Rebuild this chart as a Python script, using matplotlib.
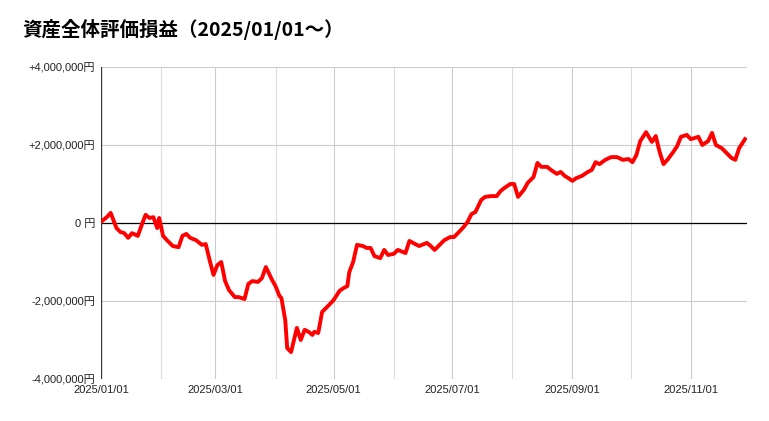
import numpy as np
import pandas as pd
import matplotlib
matplotlib.use("Agg")
import matplotlib.pyplot as plt
import matplotlib.dates as mdates
from matplotlib.ticker import FuncFormatter

plt.rcParams["font.family"] = ["Liberation Sans", "Noto Sans CJK JP"]

# days since 2025-01-01, value in 万円
days = [0, 3, 5, 6, 8, 10, 12, 14, 16, 19, 21, 23, 25, 27, 29, 30, 32, 34, 37, 40,
        42, 44, 46, 49, 52, 54, 56, 58, 60, 62, 64, 66, 69, 71, 74, 76, 78, 81, 83, 85,
        86, 88, 90, 92, 93, 95, 96, 98, 101, 103, 105, 107, 109, 110, 112, 114, 116, 118, 120, 123,
        125, 127, 128, 130, 132, 135, 137, 139, 141, 144, 146, 148, 151, 153, 157, 159, 162, 164, 168, 170,
        172, 175, 177, 180, 182, 184, 187, 189, 191, 193, 196, 198, 201, 204, 206, 208, 211, 213, 215, 218,
        220, 223, 225, 227, 230, 232, 235, 237, 239, 241, 243, 245, 248, 251, 253, 255, 257, 260, 263, 266,
        269, 272, 274, 276, 278, 281, 284, 286, 288, 290, 292, 295, 297, 299, 302, 304, 306, 308, 310, 313,
        315, 317, 320, 322, 325, 327, 329, 332]
values_man = [3, 15, 26, 13, -13, -23, -26, -38, -26, -33, -5, 21, 13, 15, -13, 13, -33, -44, -59, -62,
              -33, -28, -38, -44, -56, -54, -95, -133, -108, -100, -149, -172, -190, -190, -195, -156, -149, -151, -141, -113,
              -123, -144, -162, -187, -192, -249, -321, -331, -269, -300, -274, -279, -287, -279, -282, -228, -218, -208, -197, -174,
              -167, -162, -126, -100, -56, -59, -64, -64, -85, -90, -69, -82, -79, -69, -77, -46, -54, -59, -51, -59,
              -69, -54, -44, -36, -36, -26, -10, 3, 23, 28, 59, 67, 69, 69, 82, 90, 100, 100, 67, 85,
              103, 118, 154, 144, 144, 136, 126, 131, 121, 115, 108, 115, 121, 131, 136, 156, 151, 162, 169, 169,
              162, 164, 156, 174, 210, 233, 208, 223, 182, 151, 162, 182, 197, 221, 226, 215, 218, 221, 200, 210,
              231, 200, 192, 182, 167, 162, 192, 215]

dates = pd.Timestamp("2025-01-01") + pd.to_timedelta(days, unit="D")
values = np.array(values_man) * 10000

fig = plt.figure(figsize=(7.69, 4.21), dpi=100)
ax = fig.add_axes([0.1313, 0.0998, 0.840, 0.741])

ax.plot(dates, values, color="#ff0000", linewidth=2.8, solid_joinstyle="round", zorder=3)
ax.axhline(0, color="black", linewidth=0.9, zorder=2)

ax.set_ylim(-4_000_000, 4_000_000)
ax.set_yticks([-4_000_000, -2_000_000, 0, 2_000_000, 4_000_000])
ax.yaxis.set_major_formatter(FuncFormatter(
    lambda v, _: "0 円" if v == 0 else (f"+{v:,.0f}円" if v > 0 else f"{v:,.0f}円")))

ax.set_xlim(pd.Timestamp("2025-01-01"), pd.Timestamp("2025-11-30"))
ax.xaxis.set_major_locator(mdates.MonthLocator(bymonth=[1, 3, 5, 7, 9, 11]))
ax.xaxis.set_minor_locator(mdates.MonthLocator())
ax.xaxis.set_major_formatter(mdates.DateFormatter("%Y/%m/%d"))

ax.grid(True, which="major", color="#cccccc", linewidth=0.8)
ax.grid(True, which="minor", axis="x", color="#dddddd", linewidth=0.8)
ax.tick_params(which="both", length=0, labelsize=8, colors="#222222", pad=4)
for s in ax.spines.values():
    s.set_visible(False)
ax.axvline(pd.Timestamp("2025-01-01"), color="#333333", linewidth=0.9)

fig.text(0.029, 0.915, "資産全体評価損益（2025/01/01～）", fontsize=14,
         fontweight="bold", fontstyle="italic",
         family=["Noto Sans CJK JP", "DejaVu Sans"])

fig.savefig("out.png", dpi=100)
